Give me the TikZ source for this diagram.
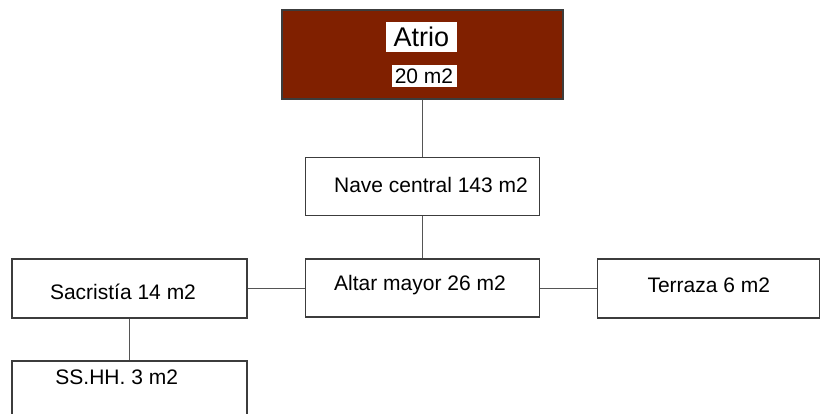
\documentclass[tikz,border=0pt]{standalone}
\usepackage{fontspec}
\setmainfont{Liberation Sans}
\definecolor{atriored}{RGB}{128,32,0}
\definecolor{edge}{RGB}{60,60,60}
\definecolor{wire}{RGB}{85,85,85}
\begin{document}
\begin{tikzpicture}[x=1pt,y=-1pt,
  box/.style={draw=edge,line width=1.1pt,fill=white,inner sep=0pt,anchor=center},
  lbl/.style={inner sep=0pt,anchor=center,font=\fontsize{21}{24}\selectfont,text=black},
  wire/.style={draw=wire,line width=1.1pt}]
\useasboundingbox (0,0) rectangle (820,413);
% boxes
\node[box,fill=atriored,minimum width=281pt,minimum height=89pt] (atrio) at (422.5,54.5) {};
\node[box,minimum width=234pt,minimum height=58pt] (nave) at (422.5,186.3) {};
\node[box,minimum width=234pt,minimum height=58pt] (altar) at (422.5,288) {};
\node[box,minimum width=235pt,minimum height=59pt] (sac) at (129.5,288.5) {};
\node[box,minimum width=222pt,minimum height=59pt] (terr) at (708.5,288.5) {};
\node[box,minimum width=235pt,minimum height=58pt] (ss) at (129.5,390) {};
% labels
\node[lbl,fill=white,minimum width=71pt,minimum height=30pt,font=\fontsize{27}{30}\selectfont] (atriot) at (421.3,37.3) {Atrio};
\node[lbl,fill=white,minimum width=65pt,minimum height=22pt] (atriom) at (424,76) {20 m2};
\node[lbl] (navet) at (431,185) {Nave central 143 m2};
\node[lbl] (altart) at (420,285) {Altar mayor 26 m2};
\node[lbl] (sact) at (123,291.7) {Sacristía 14 m2};
\node[lbl] (terrt) at (708.8,285) {Terraza 6 m2};
\node[lbl] (sst) at (116.7,377.7) {SS.HH. 3 m2};
% connectors
\draw[wire] (atrio.south) -- (nave.north);
\draw[wire] (nave.south) -- (altar.north);
\draw[wire] (sac.east) -- (sac.east -| altar.west);
\draw[wire] (terr.west -| altar.east) -- (terr.west);
\draw[wire] (sac.south) -- (ss.north);
\end{tikzpicture}
\end{document}
